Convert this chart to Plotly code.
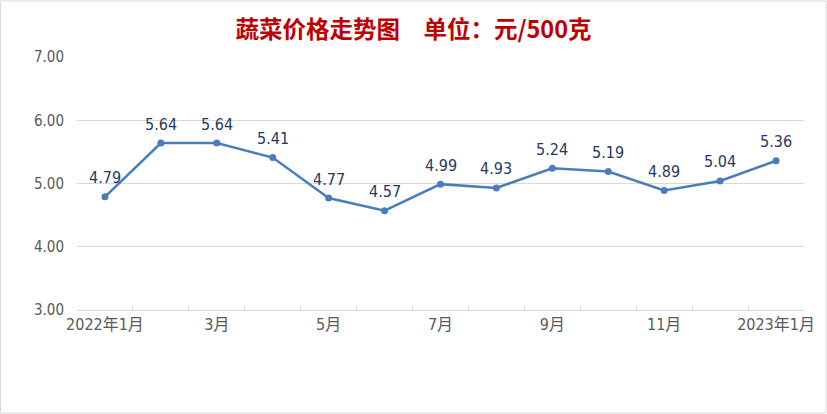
import plotly.graph_objects as go

categories = ["2022年1月", "2022年2月", "2022年3月", "2022年4月", "2022年5月", "2022年6月",
              "2022年7月", "2022年8月", "2022年9月", "2022年10月", "2022年11月", "2022年12月",
              "2023年1月"]
tick_labels = ["2022年1月", "", "3月", "", "5月", "", "7月", "", "9月", "", "11月", "", "2023年1月"]
prices = [4.79, 5.64, 5.64, 5.41, 4.77, 4.57, 4.99, 4.93, 5.24, 5.19, 4.89, 5.04, 5.36]
y_ticks = [3, 4, 5, 6, 7]

font_num = "Liberation Sans Narrow, DejaVu Sans Condensed, Noto Sans CJK SC, sans-serif"

fig = go.Figure()
fig.add_trace(go.Scatter(
    x=categories, y=prices, mode="lines+markers",
    line=dict(color="#4A7EBB", width=2.5),
    marker=dict(color="#4A7EBB", size=7),
    hoverinfo="skip", showlegend=False,
))

for c, v in zip(categories, prices):
    fig.add_annotation(x=c, y=v, text=f"{v:.2f}", showarrow=False, yshift=19,
                       font=dict(family=font_num, size=16, color="#1F3864"))

fig.update_layout(
    width=827, height=414,
    margin=dict(l=77, r=23, t=57, b=104, autoexpand=False),
    paper_bgcolor="white", plot_bgcolor="white",
    title=dict(text="<b>蔬菜价格走势图　单位：元/500克</b>", x=0.5, xanchor="center",
               y=0.927, yanchor="middle",
               font=dict(family="Noto Sans CJK SC, sans-serif", size=23.5, color="#C00000")),
    shapes=[dict(type="rect", xref="paper", yref="paper", x0=-76.5/727, x1=1 + 22/727,
                 y0=-103/253, y1=1 + 56/253, line=dict(color="#D9D9D9", width=1))],
)
fig.update_xaxes(
    type="category", tickvals=categories, ticktext=tick_labels,
    tickson="boundaries", ticks="inside", ticklen=5, tickcolor="#D9D9D9",
    showgrid=False, showline=True, linecolor="#D9D9D9", linewidth=1,
    tickfont=dict(family=font_num, size=16, color="#595959"),
    tickangle=0, automargin=False, range=[-0.5, 12.5],
)
fig.update_yaxes(
    range=[3, 7], tickvals=y_ticks, ticktext=[f"{t:.2f}" for t in y_ticks],
    showgrid=True, gridcolor="#D9D9D9", gridwidth=1, zeroline=False,
    showline=False, ticks="", ticklabelstandoff=12, automargin=False,
    tickfont=dict(family=font_num, size=15, color="#595959"),
)

fig.write_html("out.html", config={"displayModeBar": False},
               post_script="document.body.style.margin='0';")
